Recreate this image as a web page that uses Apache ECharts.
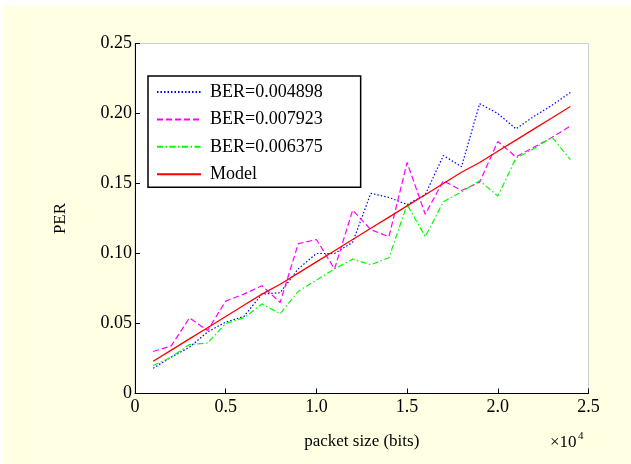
<!DOCTYPE html>
<html>
<head>
<meta charset="utf-8">
<script src="https://cdn.jsdelivr.net/npm/echarts@6/dist/echarts.min.js"></script>
<style>
html,body{margin:0;padding:0;background:#ffffff;}
#c{width:631px;height:464px;}
</style>
</head>
<body>
<div id="c"></div>
<script>
const packetSizes = [1000,2000,3000,4000,5000,6000,7000,8000,9000,10000,11000,12000,13000,14000,15000,16000,17000,18000,19000,20000,21000,22000,23000,24000];
const ber004898 = [0.018,0.026,0.033,0.044,0.051,0.055,0.071,0.072,0.089,0.100,0.100,0.108,0.143,0.140,0.135,0.142,0.170,0.162,0.207,0.200,0.189,0.198,0.206,0.215];
const ber007923 = [0.030,0.034,0.054,0.045,0.066,0.071,0.077,0.065,0.107,0.110,0.089,0.131,0.117,0.112,0.165,0.128,0.152,0.145,0.151,0.180,0.169,0.176,0.183,0.191];
const ber006375 = [0.020,0.026,0.035,0.036,0.050,0.054,0.064,0.057,0.073,0.081,0.089,0.096,0.092,0.097,0.135,0.112,0.137,0.144,0.152,0.141,0.168,0.175,0.183,0.167];
const model = [0.023,0.031,0.039,0.047,0.055,0.063,0.071,0.078,0.086,0.094,0.102,0.110,0.118,0.126,0.134,0.142,0.150,0.158,0.165,0.173,0.181,0.189,0.197,0.205];
const xTickLabels = {0:'0',5000:'0.5',10000:'1.0',15000:'1.5',20000:'2.0',25000:'2.5'};
const yTickLabels = {0:'0',0.05:'0.05',0.1:'0.10',0.15:'0.15',0.2:'0.20',0.25:'0.25'};
const seriesNames = ['BER=0.004898','BER=0.007923','BER=0.006375','Model'];

const FONT = '"Liberation Serif","Times New Roman",serif';
const pairs = arr => packetSizes.map((x,i)=>[x,arr[i]]);

const chart = echarts.init(document.getElementById('c'), null, {renderer:'canvas'});
chart.setOption({
  backgroundColor: '#FFFFE4',
  animation: false,
  textStyle: {fontFamily: FONT, color: '#000'},
  graphic: [
    {type:'rect', left:0, top:0, shape:{width:631,height:6}, style:{fill:'#ffffff'}, z:-10},
    {type:'rect', left:0, top:0, shape:{width:4,height:464}, style:{fill:'#ffffff'}, z:-10},
    {type:'text', left:550, top:434, style:{text:'×10', font:'17px ' + FONT, fill:'#000'}},
    {type:'text', left:578, top:431, style:{text:'4', font:'11px ' + FONT, fill:'#000'}}
  ],
  grid: {
    left: 135, top: 43.5, right: 42.5, bottom: 70.5,
    show: true, backgroundColor: '#ffffff', borderColor: '#cfcfcf', borderWidth: 1
  },
  legend: {
    orient: 'vertical', left: 148, top: 76,
    data: seriesNames,
    itemWidth: 44, itemHeight: 14, itemGap: 7.4,
    padding: [6, 38, 3, 8],
    borderColor: '#000', borderWidth: 1.5, backgroundColor: '#fff',
    itemStyle: {opacity: 0},
    textStyle: {fontFamily: FONT, fontSize: 18, color: '#000', lineHeight: 20, padding:[0,0,0,4]}
  },
  xAxis: {
    type: 'value', min: 0, max: 25000, interval: 5000,
    name: 'packet size (bits)', nameLocation: 'middle', nameGap: 40,
    nameTextStyle: {fontFamily: FONT, fontSize: 17, color: '#000'},
    axisLine: {show: true, lineStyle: {color: '#000', width: 1}},
    axisTick: {show: true, inside: true, length: 5, lineStyle: {color: '#000'}},
    axisLabel: {fontFamily: FONT, fontSize: 18, color: '#000', margin: 5,
      formatter: v => xTickLabels[v] !== undefined ? xTickLabels[v] : ''},
    splitLine: {show: false}
  },
  yAxis: {
    type: 'value', min: 0, max: 0.25, interval: 0.05,
    name: 'PER', nameLocation: 'middle', nameGap: 66, nameRotate: 90,
    nameTextStyle: {fontFamily: FONT, fontSize: 17, color: '#000'},
    axisLine: {show: true, lineStyle: {color: '#000', width: 1}},
    axisTick: {show: true, inside: true, length: 5, lineStyle: {color: '#000'}},
    axisLabel: {fontFamily: FONT, fontSize: 18, color: '#000', margin: 3,
      formatter: v => { const k = Math.round(v*100)/100; return yTickLabels[k] !== undefined ? yTickLabels[k] : ''; }},
    splitLine: {show: false}
  },
  series: [
    {name: seriesNames[0], type: 'line', data: pairs(ber004898), symbol: 'none', color: '#0000ff',
     lineStyle: {color: '#0000ff', width: 1.2, type: [1.5, 2]}},
    {name: seriesNames[1], type: 'line', data: pairs(ber007923), symbol: 'none', color: '#ff00ff',
     lineStyle: {color: '#ff00ff', width: 1.2, type: [6, 3]}},
    {name: seriesNames[2], type: 'line', data: pairs(ber006375), symbol: 'none', color: '#00ff00',
     lineStyle: {color: '#00ff00', width: 1.2, type: [6, 2.5, 1.5, 2.5]}},
    {name: seriesNames[3], type: 'line', data: pairs(model), symbol: 'none', color: '#ff0000',
     lineStyle: {color: '#ff0000', width: 1.3, type: 'solid'}}
  ]
});
</script>
</body>
</html>
